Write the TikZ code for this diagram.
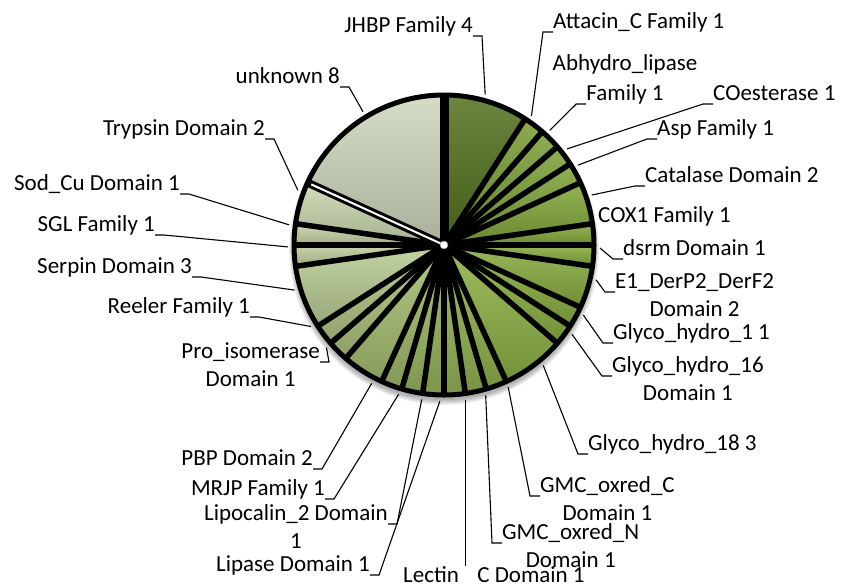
\documentclass[tikz,border=0pt]{standalone}
\usepackage{fontspec}
\setmainfont{Carlito}
\usepackage{tikz}
\usetikzlibrary{calc}

\begin{document}
\begin{tikzpicture}
  [
    x=1pt, y=-1pt,
    lbl/.style   = {font=\fontsize{23}{28}\selectfont, inner sep=0pt, align=center},
    lead/.style  = {line width=1.1pt},
    cut/.style   = {line width=5.5pt},
    slice/.style = {top color=#1!85!white, bottom color=#1!82!black},
  ]
\useasboundingbox (0,0) rectangle (845,587);

%Centre and radius of the pie
\coordinate (c) at (444,245);
\def \rad{150}

%Angle of one entry, 44 entries in all
\pgfmathsetmacro{\wid}{360/44}

%Soft shadow under the pie
\foreach \k in {0,...,4}
  \fill[black, opacity=0.07] ([yshift=-5pt]c) circle [radius=\rad+\k*1.2];

%Slices, clockwise from the top
\def \angs{-90}
\foreach \n/\col in {4/52711F, 1/789C32, 1/7A9E34, 1/7CA135, 1/7EA337, 2/80A538,
                     1/83A83A, 1/85AA3C, 2/87AC3E, 1/89AE40, 1/8BB042, 3/8DB244,
                     1/90B24B, 1/93B350, 1/96B455, 1/99B55A, 1/9CB862, 1/A0BA68,
                     2/A6BE70, 1/ACC27A, 1/B1C582, 3/BACC94, 1/C0CF9E, 1/C5D3A6,
                     2/CAD7AE, 8/CDD7BC}
{
\pgfmathsetmacro{\ange}{\angs+\n*\wid}
\definecolor{slc}{HTML}{\col}
\shade[slice=slc] (c) -- ++(\angs:\rad) arc [start angle=\angs, end angle=\ange, radius=\rad] -- cycle;
\xdef\angs{\ange}
}

%Black cuts between the slices
\foreach \m in {4,5,6,7,8,10,11,12,14,15,16,19,20,21,22,23,24,25,27,28,29,32,33,34}
  \draw[cut] (c) -- ++(-90+\m*\wid:\rad);
\draw[line width=9pt] (c) -- ++(-90:\rad);
\draw[line width=8pt] (c) -- ++(-90+36*\wid:\rad);
\draw[white, line width=2pt] (c) -- ++(-90+36*\wid:\rad-4);
\draw[line width=5pt] (c) circle [radius=\rad];
\filldraw[fill=white, draw=black!50, line width=.4pt] (c) circle [radius=4];

%Labels on the left of their leader (two-line labels sit on their last line)
\node[lbl, anchor=base east] (jhbp) at (473,32)  {JHBP Family 4};
\node[lbl, anchor=base east] (unk)  at (340,83)  {unknown 8};
\node[lbl, anchor=base east] (tryp) at (265,135) {Trypsin Domain 2};
\node[lbl, anchor=base east] (sod)  at (180,190) {Sod\_Cu Domain 1};
\node[lbl, anchor=base east] (sgl)  at (155,231) {SGL Family 1};
\node[lbl, anchor=base east] (serp) at (192,273) {Serpin Domain 3};
\node[lbl, anchor=base east] (reel) at (250,313) {Reeler Family 1};
\node[lbl, anchor=base east] (pro)  at (320,386) {Pro\_isomerase\\Domain 1};
\node[lbl, anchor=base east] (pbp)  at (313,465) {PBP Domain 2};
\node[lbl, anchor=base east] (mrjp) at (325,495) {MRJP Family 1};
\node[lbl, anchor=base east] (lipo) at (388,548) {Lipocalin\_2 Domain\\1};
\node[lbl, anchor=base east] (lipa) at (370,571) {Lipase Domain 1};

%Labels on the right of their leader
\node[lbl, anchor=base west] (att)  at (553,28)  {Attacin\_C Family 1};
\node[lbl, anchor=base]      (abh)  at (625,70)  {Abhydro\_lipase};
\node[lbl, anchor=base]      (fam)  at (625,100) {Family 1};
\node[lbl, anchor=base west] (coe)  at (713,100) {COesterase 1};
\node[lbl, anchor=base west] (asp)  at (657,135) {Asp Family 1};
\node[lbl, anchor=base west] (cat)  at (645,182) {Catalase Domain 2};
\node[lbl, anchor=base west] (cox)  at (598,222) {COX1 Family 1};
\node[lbl, anchor=base west] (dsrm) at (623,255) {dsrm Domain 1};
\node[lbl, anchor=base west] (eone) at (615,316) {E1\_DerP2\_DerF2\\Domain 2};
\node[lbl, anchor=base west] (gone) at (613,339) {Glyco\_hydro\_1 1};
\node[lbl, anchor=base west] (gsix) at (612,400) {Glyco\_hydro\_16\\Domain 1};
\node[lbl, anchor=base west] (geig) at (588,450) {Glyco\_hydro\_18 3};
\node[lbl, anchor=base west] (gmcc) at (540,520) {GMC\_oxred\_C\\Domain 1};
\node[lbl, anchor=base west] (gmcn) at (502,567) {GMC\_oxred\_N\\Domain 1};
\node[lbl, anchor=base west] (lec)  at (403,582) {Lectin\hspace{.8em}C Domain 1};

%Leaders
\foreach \nm/\a/\dy in {jhbp/-74.7/0, unk/-121.3/0, tryp/200.5/0, sod/187.4/0, sgl/179.3/0,
                        serp/163.2/0, reel/148.5/0, pro/138.9/1, pbp/117.6/0, mrjp/106.9/0,
                        lipo/98.2/1, lipa/91.5/0}
{
\coordinate (p\nm) at ($(c)+(\a:156)$);
\draw[lead] (p\nm) -- ([xshift=9pt,yshift={\dy*28pt-4pt}]\nm.base east)
                   -- ([yshift={\dy*28pt-4pt}]\nm.base east);
}
\foreach \nm/\a/\dy in {att/-55.9/0, fam/-47.3/0, coe/-38/0, asp/-30.8/0, cat/-18.7/0,
                        dsrm/1.1/0, eone/12.9/1, gone/26.7/0, gsix/34.9/1, geig/50.5/0,
                        gmcc/65.7/1, gmcn/74.5/1}
{
\coordinate (p\nm) at ($(c)+(\a:156)$);
\draw[lead] (p\nm) -- ([xshift=-10pt,yshift={\dy*28pt-4pt}]\nm.base west)
                   -- ([yshift={\dy*28pt-4pt}]\nm.base west);
}
\coordinate (plec) at ($(c)+(82.2:156)$);
\draw[lead] (plec) -- (plec |- lec.north);
\end{tikzpicture}
\end{document}
